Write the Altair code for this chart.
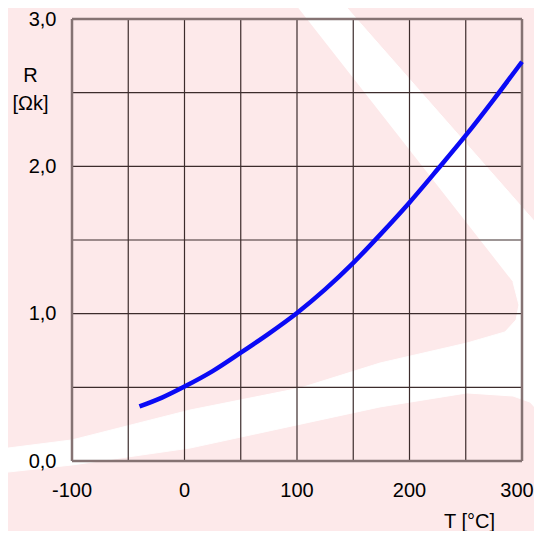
import altair as alt
import pandas as pd

# Curve: temperature [°C] and resistance [kOhm]
temps = [-40, -20, 0, 25, 50, 75, 100, 125, 150, 175, 200, 225, 250, 275, 300]
resist = [0.37, 0.43, 0.505, 0.61, 0.735, 0.865, 1.005, 1.165, 1.345, 1.545,
          1.755, 1.98, 2.21, 2.455, 2.71]

# Grid and tick values
x_grid = [-50, 0, 50, 100, 150, 200, 250]
y_grid = [0.5, 1.0, 1.5, 2.0, 2.5]
x_frame = [-100, 300]
y_frame = [0.0, 3.0]
x_labels = [-100, 0, 100, 200, 300]
x_label_text = ["-100", "0", "100", "200", "300"]
y_labels = [0, 1, 2, 3]

# Background watermark (white stroke on pink), outline in data units
wm_T = [95.6, 138.2, 317.8, 317.8, 307.1, 292.0, 251.1, 173.8, 4.9, -100.0, -164.0,
        -164.0, -100.0, 4.9, 102.7, 173.8, 251.1, 284.9, 294.7, 297.3, 292.0]
wm_R = [3.129, 3.129, 1.568, 0.312, 0.400, 0.441, 0.462, 0.367, 0.088, -0.027, -0.081,
        0.081, 0.143, 0.346, 0.495, 0.665, 0.801, 0.876, 0.957, 1.059, 1.215]

FONT = "Liberation Sans"

curve_df = pd.DataFrame({"T": temps, "R": resist})
wm_df = pd.DataFrame({"T": wm_T, "R": wm_R, "i": list(range(len(wm_T)))})
xg_df = pd.DataFrame({"T": x_grid})
yg_df = pd.DataFrame({"R": y_grid})
xf_df = pd.DataFrame({"T": x_frame})
yf_df = pd.DataFrame({"R": y_frame})
xl_df = pd.DataFrame({"T": x_labels, "label": x_label_text})

xscale = alt.Scale(domain=[-100, 300], nice=False, zero=False)
yscale = alt.Scale(domain=[0, 3], nice=False, zero=False)

xaxis = alt.Axis(
    values=x_labels, grid=False, ticks=False, tickSize=0, domain=False,
    labels=False, zindex=1,
    title="T [°C]", titleFont=FONT, titleFontSize=20, titleFontWeight="normal",
    titleColor="#000000", titleX=397, titleY=66, titleAlign="center",
    titleBaseline="alphabetic", titleAnchor="start",
)
yaxis = alt.Axis(
    values=y_labels, grid=False, ticks=False, tickSize=0, domain=False,
    labelFlush=False, zindex=1,
    labelFont=FONT, labelFontSize=20, labelColor="#000000",
    labelPadding=16, labelBaseline="middle",
    labelExpr="replace(format(datum.value, '.1f'), '.', ',')",
    title=["R", "[Ωk]"], titleFont=FONT, titleFontSize=20, titleFontWeight="normal",
    titleColor="#000000", titleAngle=0, titleX=-42, titleY=62,
    titleAlign="center", titleBaseline="alphabetic", titleLineHeight=28,
    titleAnchor="start",
)

X = alt.X("T:Q", scale=xscale, axis=xaxis)
Y = alt.Y("R:Q", scale=yscale, axis=yaxis)

watermark = alt.Chart(wm_df).mark_line(
    fill="#ffffff", stroke="#ffffff", strokeWidth=1, clip=False
).encode(x=X, y=Y, order=alt.Order("i:Q"))

vgrid = alt.Chart(xg_df).mark_rule(color="#3c2c2c", strokeWidth=1.2).encode(x=X)
hgrid = alt.Chart(yg_df).mark_rule(color="#3c2c2c", strokeWidth=1.2).encode(y=Y)
vframe = alt.Chart(xf_df).mark_rule(color="#857373", strokeWidth=2.5).encode(x=X)
hframe = alt.Chart(yf_df).mark_rule(color="#857373", strokeWidth=2.5).encode(y=Y)

curve = alt.Chart(curve_df).mark_line(
    color="#0a0af5", strokeWidth=4.5, interpolate="monotone"
).encode(x=X, y=Y)

label_base = alt.Chart(xl_df)
xlab_main = label_base.transform_filter("datum.T < 300").mark_text(
    font=FONT, fontSize=20, color="#000000", align="center",
    baseline="alphabetic", dy=36
).encode(x=X, y=alt.Y(datum=0, scale=yscale, axis=yaxis), text="label:N")
xlab_last = label_base.transform_filter("datum.T >= 300").mark_text(
    font=FONT, fontSize=20, color="#000000", align="center",
    baseline="alphabetic", dy=36, dx=-5
).encode(x=X, y=alt.Y(datum=0, scale=yscale, axis=yaxis), text="label:N")

chart = alt.layer(watermark, vgrid, hgrid, vframe, hframe, curve,
                  xlab_main, xlab_last).properties(
    width=450,
    height=442,
    padding={"left": 64, "top": 11, "right": 12, "bottom": 70},
    autosize=alt.AutoSizeParams(type="none"),
    background="#fde9ea",
).configure_view(stroke=None)

chart.save("out.html", embed_options={"renderer": "svg", "actions": False})
